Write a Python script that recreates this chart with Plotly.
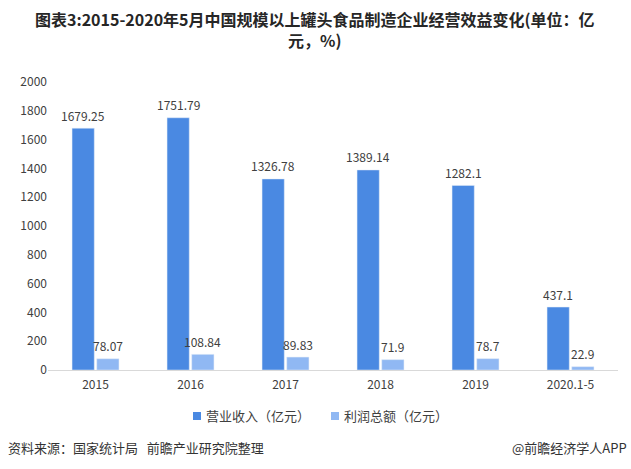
import plotly.graph_objects as go

categories = ["2015", "2016", "2017", "2018", "2019", "2020.1-5"]
revenue = [1679.25, 1751.79, 1326.78, 1389.14, 1282.1, 437.1]
profit = [78.07, 108.84, 89.83, 71.9, 78.7, 22.9]
revenue_labels = ["1679.25", "1751.79", "1326.78", "1389.14", "1282.1", "437.1"]
profit_labels = ["78.07", "108.84", "89.83", "71.9", "78.7", "22.9"]
y_ticks = [0, 200, 400, 600, 800, 1000, 1200, 1400, 1600, 1800, 2000]
series_names = ["营业收入（亿元）", "利润总额（亿元）"]
series_colors = ["#4a89e2", "#90b8f3"]
title_lines = ["图表3:2015-2020年5月中国规模以上罐头食品制造企业经营效益变化(单位：亿", "元，%)"]

FONT = "Noto Sans CJK SC"
W, H = 631, 469
L, R, T, B = 48, 13, 82, 99
PW, PH = W - L - R, H - T - B
BARGAP, GROUPGAP = 0.48, 0.1

xpos = list(range(len(categories)))


def px(x):
    return (x - L) / PW


def py(y):
    return (H - B - y) / PH


fig = go.Figure()
for vals, name, color in [(revenue, series_names[0], series_colors[0]),
                          (profit, series_names[1], series_colors[1])]:
    fig.add_trace(go.Bar(x=xpos, y=vals, name=name, marker=dict(color=color)))

# value labels above bars
slot = PW / len(categories) * (1 - BARGAP) / 2
for sign, vals, labels in [(-1, revenue, revenue_labels), (1, profit, profit_labels)]:
    for xi, v, t in zip(xpos, vals, labels):
        fig.add_annotation(
            x=xi, y=v, xref="x", yref="y", text=t, showarrow=False,
            xshift=sign * slot / 2, yshift=13, yanchor="middle", xanchor="center",
            font=dict(size=12, color="#404040", family=FONT),
        )

fig.update_layout(
    width=W, height=H,
    margin=dict(l=L, r=R, t=T, b=B),
    paper_bgcolor="white", plot_bgcolor="white",
    barmode="group", bargap=BARGAP, bargroupgap=GROUPGAP,
    font=dict(family=FONT, size=12, color="#404040"),
    xaxis=dict(
        range=[-0.5, len(categories) - 0.5], tickvals=xpos, ticktext=categories,
        showgrid=False, zeroline=False, showline=True, linecolor="#d9d9d9", linewidth=1,
        ticks="", ticklabelstandoff=4, tickfont=dict(size=12, color="#404040"),
    ),
    yaxis=dict(
        range=[0, 2000], tickvals=y_ticks, showgrid=False, zeroline=False,
        showline=False, ticks="", tickfont=dict(size=12, color="#404040"),
    ),
    showlegend=False,
)

# title (two lines in one text)
fig.add_annotation(
    text="<b>" + "<br>".join(title_lines) + "</b>", xref="paper", yref="paper",
    x=px(315), xanchor="center", y=py(30), yanchor="middle", showarrow=False,
    font=dict(size=16, color="#262626", family=FONT),
)

# custom legend (small squares + labels)
legend_x = [193, 331]
for lx, name, color in zip(legend_x, series_names, series_colors):
    fig.add_shape(
        type="rect", xref="paper", yref="paper",
        x0=px(lx), x1=px(lx + 8), y0=py(420), y1=py(412),
        fillcolor=color, line=dict(width=0),
    )
    fig.add_annotation(
        text=name, xref="paper", yref="paper", x=px(lx + 11), xanchor="left",
        y=py(415), yanchor="middle", showarrow=False,
        font=dict(size=13, color="#404040"),
    )

fig.add_annotation(
    text="资料来源：国家统计局   前瞻产业研究院整理", xref="paper", yref="paper",
    x=px(6), xanchor="left", y=py(447), yanchor="middle",
    showarrow=False, font=dict(size=13, color="#333333"),
)
fig.add_annotation(
    text="@前瞻经济学人APP", xref="paper", yref="paper",
    x=px(629), xanchor="right", y=py(447), yanchor="middle",
    showarrow=False, font=dict(size=13, color="#333333"),
)

fig.write_html("out.html", config={"displayModeBar": False},
               post_script="document.body.style.margin='0';")
